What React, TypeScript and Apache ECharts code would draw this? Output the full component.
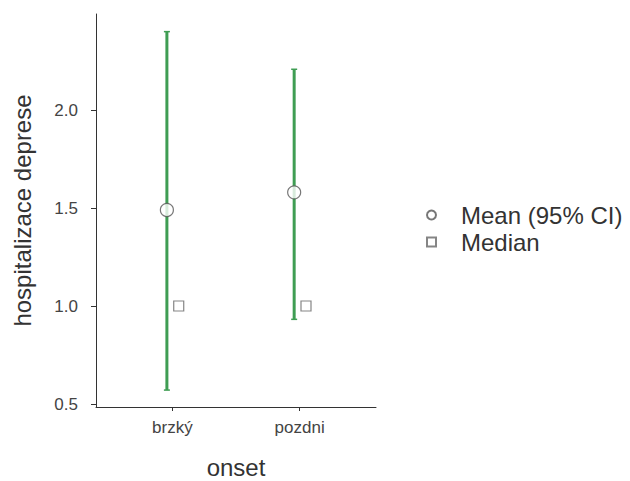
import React, { useEffect, useRef } from "react";
import * as echarts from "echarts";

const categories = ["brzký", "pozdni"];
const means = [1.49, 1.58];
const ciLower = [0.571, 0.932];
const ciUpper = [2.4, 2.208];
const medians = [1.0, 1.0];
const yTicks = [0.5, 1.0, 1.5, 2.0];
const xTicks = [1, 2];

const GREEN = "#3f9d53";
const FONT = "Liberation Sans, Arial, sans-serif";

export default function App() {
  const ref = useRef<HTMLDivElement>(null);
  useEffect(() => {
    if (!ref.current) return;
    const chart = echarts.init(ref.current, undefined, { renderer: "svg" });
    const meanOff = -0.043;
    const medOff = 0.05;
    const errData = categories.map((_, i) => [i + 1 + meanOff, ciLower[i], ciUpper[i]]);
    const meanData = categories.map((_, i) => [i + 1 + meanOff, means[i]]);
    const medData = categories.map((_, i) => [i + 1 + medOff, medians[i]]);
    chart.setOption({
      animation: false,
      backgroundColor: "#ffffff",
      textStyle: { fontFamily: FONT },
      grid: { left: 96, top: 14, width: 280, height: 393, containLabel: false, outerBoundsMode: "none" },
      xAxis: {
        type: "value",
        min: 0.4,
        max: 2.6,
        name: "onset",
        nameLocation: "middle",
        nameGap: 48,
        nameTextStyle: { fontSize: 24, color: "#333", fontFamily: FONT },
        axisLine: { show: true, onZero: false, lineStyle: { color: "#333", width: 1 } },
        axisTick: { show: true, length: 4, customValues: xTicks, lineStyle: { color: "#333" } },
        axisLabel: {
          customValues: xTicks,
          margin: 12,
          fontSize: 17,
          color: "#444",
          fontFamily: FONT,
          formatter: (v: number) => categories[Math.round(v) - 1] ?? "",
        },
        splitLine: { show: false },
      },
      yAxis: {
        type: "value",
        min: 0.4847,
        max: 2.49,
        name: "hospitalizace deprese",
        nameLocation: "middle",
        nameGap: 62,
        nameTextStyle: { fontSize: 24, color: "#333", fontFamily: FONT },
        axisLine: { show: true, onZero: false, lineStyle: { color: "#333", width: 1 } },
        axisTick: { show: true, length: 5, customValues: yTicks, lineStyle: { color: "#333" } },
        axisLabel: {
          customValues: yTicks,
          margin: 18,
          fontSize: 17,
          color: "#444",
          fontFamily: FONT,
          formatter: (v: number) => v.toFixed(1),
        },
        splitLine: { show: false },
      },
      legend: {
        orient: "vertical",
        left: 421,
        top: 198,
        itemWidth: 9,
        itemHeight: 9,
        itemGap: 3,
        textStyle: { fontSize: 24, color: "#333", fontFamily: FONT, padding: [0, 0, 0, 20] },
        data: [
          { name: "Mean (95% CI)", icon: "circle" },
          { name: "Median", icon: "rect" },
        ],
      },
      series: [
        {
          type: "custom",
          name: "CI",
          z: 2,
          data: errData,
          renderItem: (params: any, api: any) => {
            const x = api.value(0);
            const lo = api.coord([x, api.value(1)]);
            const hi = api.coord([x, api.value(2)]);
            const cap = 3;
            return {
              type: "group",
              children: [
                { type: "line", shape: { x1: lo[0], y1: lo[1], x2: hi[0], y2: hi[1] }, style: { stroke: GREEN, lineWidth: 3 } },
                { type: "line", shape: { x1: hi[0] - cap, y1: hi[1], x2: hi[0] + cap, y2: hi[1] }, style: { stroke: GREEN, lineWidth: 1.5 } },
                { type: "line", shape: { x1: lo[0] - cap, y1: lo[1], x2: lo[0] + cap, y2: lo[1] }, style: { stroke: GREEN, lineWidth: 1.5 } },
              ],
            };
          },
        },
        {
          type: "scatter",
          name: "Mean (95% CI)",
          z: 3,
          symbol: "circle",
          symbolSize: 13,
          data: meanData,
          itemStyle: { color: "#ffffff", borderColor: "#555", borderWidth: 1.2 },
        },
        {
          type: "scatter",
          name: "Median",
          z: 3,
          symbol: "rect",
          symbolSize: 10,
          data: medData,
          itemStyle: { color: "#ffffff", borderColor: "#666", borderWidth: 1.2 },
        },
      ],
    });
    return () => chart.dispose();
  }, []);
  return <div ref={ref} style={{ width: 630, height: 481, position: "absolute", left: 0, top: 0 }} />;
}
